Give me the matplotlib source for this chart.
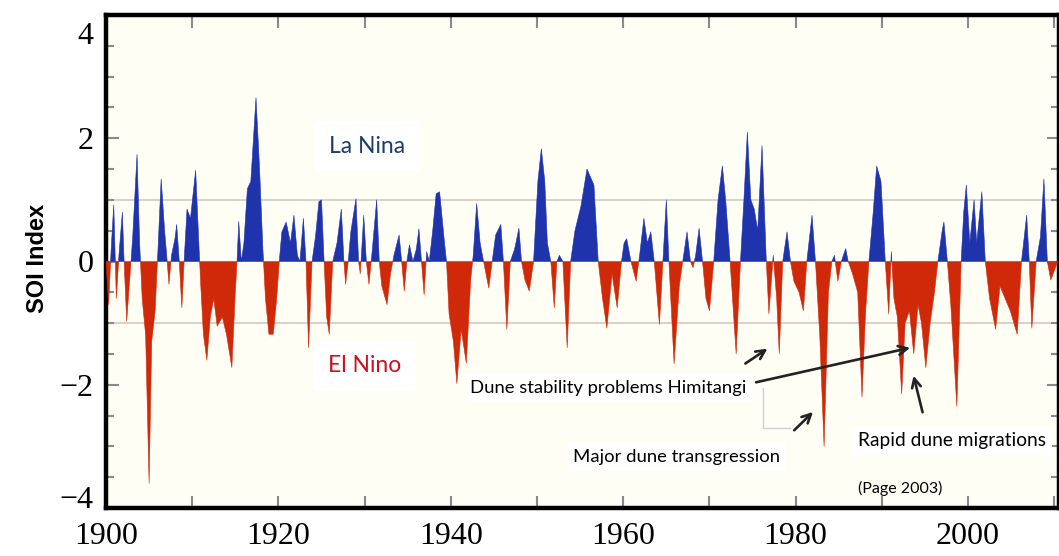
import matplotlib
matplotlib.use('Agg')
import matplotlib.pyplot as plt
import matplotlib.transforms as mtransforms
import numpy as np

# SOI index (year, value)
soi_year = [
    1900.0, 1900.3, 1900.6, 1900.9, 1901.2, 1901.5, 1901.9, 1902.1, 1902.4, 1902.8,
    1903.1, 1903.6, 1903.9, 1904.2, 1904.6, 1905.0, 1905.3, 1905.7, 1906.0, 1906.4,
    1906.8, 1907.1, 1907.3, 1907.6, 1908.0, 1908.2, 1908.5, 1908.8, 1909.1, 1909.4,
    1909.8, 1910.4, 1910.8, 1911.0, 1911.3, 1911.7, 1912.1, 1912.5, 1912.9, 1913.5,
    1914.0, 1914.6, 1915.0, 1915.2, 1915.4, 1915.7, 1916.0, 1916.4, 1916.8, 1917.4,
    1917.8, 1918.2, 1918.5, 1918.9, 1919.4, 1919.8, 1920.1, 1920.4, 1920.9, 1921.4,
    1921.8, 1922.2, 1922.5, 1922.9, 1923.2, 1923.5, 1923.9, 1924.3, 1924.7, 1925.0,
    1925.3, 1925.6, 1925.9, 1926.3, 1926.8, 1927.3, 1927.6, 1927.8, 1928.1, 1928.4,
    1929.0, 1929.3, 1929.5, 1929.9, 1930.2, 1930.5, 1930.9, 1931.4, 1931.7, 1932.0,
    1932.6, 1933.0, 1933.4, 1934.0, 1934.3, 1934.6, 1934.9, 1935.2, 1935.6, 1936.0,
    1936.3, 1936.6, 1936.9, 1937.2, 1937.5, 1937.9, 1938.3, 1938.7, 1939.2, 1939.5,
    1939.8, 1940.3, 1940.7, 1941.2, 1941.8, 1942.3, 1942.6, 1943.0, 1943.4, 1943.8,
    1944.4, 1944.8, 1945.2, 1945.8, 1946.1, 1946.5, 1946.9, 1947.4, 1947.9, 1948.2,
    1948.6, 1949.1, 1949.6, 1950.1, 1950.5, 1950.9, 1951.2, 1951.6, 1952.0, 1952.3,
    1952.6, 1953.0, 1953.5, 1953.9, 1954.4, 1955.1, 1955.8, 1956.6, 1957.1, 1957.6,
    1958.1, 1958.7, 1959.3, 1959.8, 1960.1, 1960.4, 1960.9, 1961.5, 1961.9, 1962.4,
    1962.8, 1963.2, 1963.6, 1964.2, 1964.6, 1965.0, 1965.3, 1965.9, 1966.5, 1966.9,
    1967.4, 1967.8, 1968.1, 1968.4, 1968.8, 1969.2, 1969.6, 1970.0, 1970.5, 1971.0,
    1971.5, 1971.9, 1972.4, 1973.1, 1973.6, 1974.0, 1974.4, 1974.8, 1975.2, 1975.6,
    1976.1, 1976.6, 1976.9, 1977.4, 1977.8, 1978.1, 1978.5, 1979.0, 1979.4, 1979.8,
    1980.4, 1980.9, 1981.3, 1981.9, 1982.3, 1982.8, 1983.3, 1983.8, 1984.2, 1984.5,
    1984.9, 1985.3, 1985.8, 1986.1, 1986.6, 1987.2, 1987.7, 1988.1, 1988.5, 1989.0,
    1989.4, 1989.9, 1990.4, 1990.8, 1991.1, 1991.4, 1991.8, 1992.3, 1992.7, 1993.2,
    1993.7, 1994.2, 1994.6, 1995.1, 1995.6, 1996.1, 1996.5, 1997.0, 1997.2, 1997.6,
    1998.0, 1998.7, 1999.2, 1999.5, 1999.8, 2000.2, 2000.7, 2001.0, 2001.6, 2002.0,
    2002.5, 2003.2, 2003.7, 2004.3, 2004.9, 2005.7, 2006.2, 2006.8, 2007.1, 2007.4,
    2007.9, 2008.4, 2008.8, 2009.2, 2009.6, 2010.4,
]
soi_value = [
    0.0, -0.7, 0.2, 0.92, -0.6, 0.1, 0.8, 0.0, -0.97, -0.2,
    0.4, 1.74, 0.3, -0.6, -1.2, -3.6, -1.3, -0.8, 0.1, 1.34,
    0.5, 0.0, -0.37, 0.1, 0.37, 0.6, 0.0, -0.75, 0.1, 0.85,
    0.7, 1.48, 0.2, -0.4, -1.18, -1.6, -0.9, -0.6, -1.05, -0.9,
    -1.2, -1.72, -0.5, 0.0, 0.65, 0.0, 0.3, 1.18, 1.3, 2.66,
    1.55, 0.2, -0.6, -1.18, -1.18, -0.6, 0.0, 0.48, 0.64, 0.3,
    0.75, 0.1, 0.0, 0.7, 0.0, -1.4, 0.0, 0.4, 0.97, 1.0,
    0.0, -0.9, -1.18, 0.0, 0.3, 0.85, 0.0, -0.37, 0.0, 0.48,
    1.02, 0.0, -0.2, 0.75, 0.0, -0.37, 0.2, 1.0, 0.0, -0.4,
    -0.7, -0.2, 0.1, 0.43, 0.0, -0.48, 0.0, 0.27, 0.0, 0.2,
    0.53, 0.0, -0.54, 0.16, 0.0, 0.5, 1.1, 1.13, 0.4, 0.0,
    -0.85, -1.3, -1.98, -1.1, -1.65, -0.3, 0.1, 0.94, 0.3, 0.0,
    -0.43, 0.0, 0.43, 0.6, 0.0, -1.1, 0.0, 0.2, 0.54, 0.0,
    -0.3, -0.48, 0.0, 1.3, 1.83, 1.3, 0.3, 0.0, -0.75, 0.0,
    0.1, 0.0, -1.4, 0.0, 0.5, 0.9, 1.5, 1.24, 0.0, -0.6,
    -1.08, -0.2, -0.75, 0.0, 0.3, 0.37, 0.0, -0.32, 0.1, 0.7,
    0.3, 0.48, 0.0, -1.02, 0.0, 1.0, 0.0, -1.66, -0.4, 0.0,
    0.48, 0.0, -0.1, 0.1, 0.54, 0.0, -0.6, -0.8, 0.0, 1.0,
    1.55, 0.97, 0.0, -1.5, 0.0, 1.0, 2.1, 1.0, 0.85, 0.5,
    1.88, 0.0, -0.85, 0.1, -0.6, -1.5, 0.0, 0.48, 0.0, -0.32,
    -0.5, -0.8, 0.0, 0.75, 0.0, -1.2, -3.0, -0.5, 0.0, 0.1,
    -0.32, 0.0, 0.21, 0.0, -0.2, -0.5, -2.2, -0.85, 0.0, 0.8,
    1.55, 1.3, 0.0, -0.85, 0.16, -0.6, -0.9, -2.15, -1.0, -0.8,
    -1.5, -0.7, -1.0, -1.72, -1.0, -0.5, 0.0, 0.5, 0.64, 0.0,
    -0.7, -2.35, 0.0, 0.8, 1.24, 0.3, 1.0, 0.3, 1.13, 0.0,
    -0.6, -1.1, -0.4, -0.6, -0.8, -1.18, 0.0, 0.75, 0.0, -1.08,
    0.0, 0.4, 1.34, 0.0, -0.3, 0.0,
]

x_ticks = [1900, 1910, 1920, 1930, 1940, 1950, 1960, 1970, 1980, 1990, 2000, 2010]
x_ticklabels = ['1900', '', '1920', '', '1940', '', '1960', '', '1980', '', '2000', '']
y_ticks = [-4, -2, 0, 2, 4]
y_ticklabels = ['\u22124', '\u22122', '0', '2', '4']

blue = '#1f33ad'
red = '#d0290a'

fig = plt.figure(figsize=(10.59, 5.56), dpi=100)
fig.patch.set_facecolor('white')
ax = fig.add_axes([106 / 1059, 48 / 556, 953 / 1059, 493 / 556])
ax.set_facecolor('#fffef5')

x = np.array(soi_year)
y = np.array(soi_value)
ax.fill_between(x, 0, y, where=y >= 0, interpolate=True, color=blue, lw=0.4, zorder=3)
ax.fill_between(x, 0, y, where=y <= 0, interpolate=True, color=red, lw=0.4, zorder=3)

# reference lines at +/-1
ax.axhline(1, color='#d6cec6', lw=1.3, zorder=1)
ax.axhline(-1, color='#d6cec6', lw=1.3, zorder=1)

ax.set_xlim(1900, 2010.55)
ax.set_ylim(-4, 4)

ax.set_xticks(x_ticks)
ax.set_xticklabels(x_ticklabels)
ax.set_yticks(y_ticks)
ax.set_yticklabels(y_ticklabels)
ax.set_yticks(np.arange(-4, 4.01, 0.5), minor=True)
ax.tick_params(axis='both', which='both', direction='in', top=True, right=True,
               color='#8a8a8a', width=1.5)
ax.tick_params(axis='both', which='major', length=9)
ax.tick_params(axis='both', which='minor', length=6)
ax.tick_params(axis='x', pad=10)
ax.tick_params(axis='y', pad=9)
for lab in ax.get_xticklabels() + ax.get_yticklabels():
    lab.set_fontfamily('Liberation Serif')
    lab.set_fontsize(23)

# nudge the end labels inward like the original
ylabs = ax.get_yticklabels()
ylabs[-1].set_transform(ylabs[-1].get_transform() +
                        mtransforms.ScaledTranslation(0, -0.18, fig.dpi_scale_trans))
ylabs[0].set_transform(ylabs[0].get_transform() +
                       mtransforms.ScaledTranslation(0, 0.11, fig.dpi_scale_trans))

for side in ['left', 'top', 'bottom', 'right']:
    ax.spines[side].set_linewidth(3.2)
    ax.spines[side].set_color('black')

fig.text(38 / 1059, 1 - 258 / 556, 'SOI Index', rotation=90, ha='center', va='center',
         fontsize=17, fontweight='bold', family='Liberation Sans')

box = dict(facecolor='white', edgecolor='none', pad=4)
ax.text(1930.3, 1.86, 'La Nina', color='#1d3d6e', fontsize=16.5, family='Lato',
        ha='center', va='center', bbox=dict(facecolor='white', edgecolor='none', pad=10), zorder=4)
ax.text(1930.05, -1.68, 'El Nino', color='#cc1020', fontsize=16.5, family='Lato',
        ha='center', va='center', bbox=dict(facecolor='white', edgecolor='none', pad=10), zorder=4)
ax.text(1942.23, -2.05, 'Dune stability problems Himitangi', fontsize=13.3, family='Lato',
        ha='left', va='center', bbox=box, zorder=4)
ax.text(1954.18, -3.17, 'Major dune transgression', fontsize=13.3, family='Lato',
        ha='left', va='center', bbox=box, zorder=4)
ax.text(1987.24, -2.91, 'Rapid dune migrations', fontsize=13.8, family='Lato',
        ha='left', va='center', bbox=box, zorder=4)
ax.text(1987.24, -3.68, '(Page 2003)', fontsize=11.5, family='Lato',
        ha='left', va='center', zorder=4)

# faint leftover bracket
ax.plot([1976.2, 1976.2, 1979.35], [-2.05, -2.70, -2.70], color='#d0d0d0', lw=1, zorder=4)

arrow = dict(arrowstyle='->', color='#222222', lw=1.9, mutation_scale=16)
ax.annotate('', xy=(1977.0, -1.39), xytext=(1973.9, -1.68), arrowprops=arrow, zorder=5)
ax.annotate('', xy=(1993.6, -1.39), xytext=(1975.1, -1.97), arrowprops=arrow, zorder=5)
ax.annotate('', xy=(1982.25, -2.41), xytext=(1979.6, -2.77), arrowprops=arrow, zorder=5)
ax.annotate('', xy=(1993.6, -1.81), xytext=(1994.8, -2.49), arrowprops=arrow, zorder=5)

fig.savefig('out.png', dpi=100)
